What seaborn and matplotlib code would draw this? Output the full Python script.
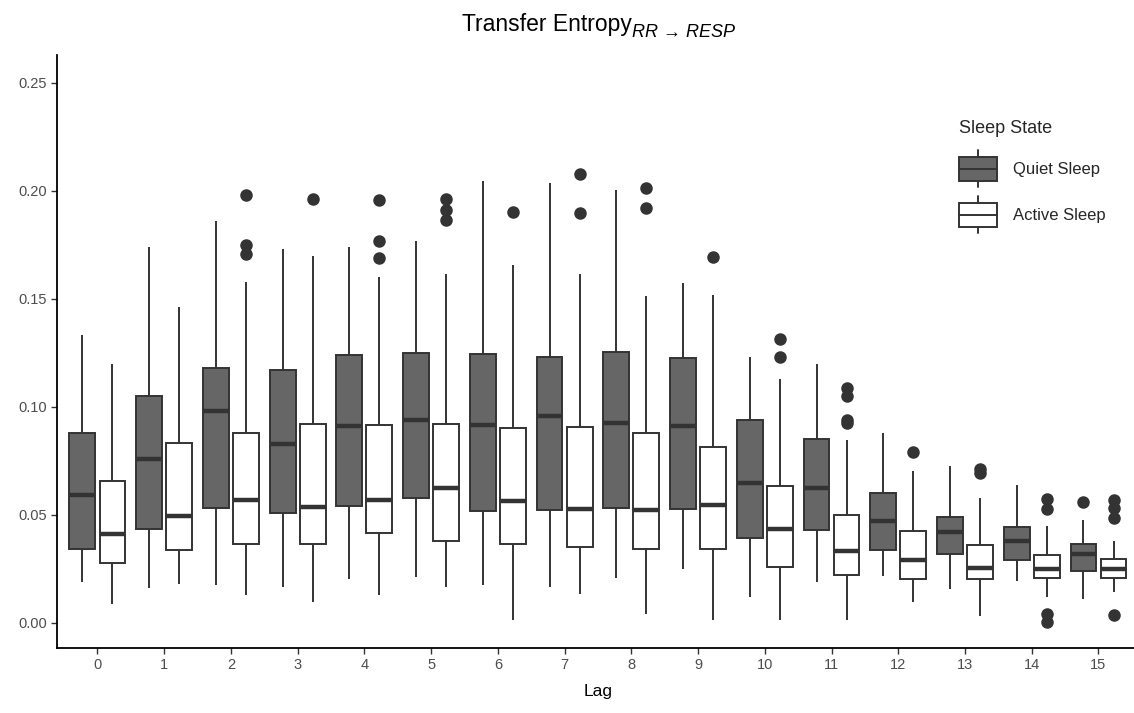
import pandas as pd
import matplotlib.pyplot as plt
import seaborn as sns
from matplotlib.patches import Patch, Rectangle
from matplotlib.lines import Line2D
from matplotlib.legend_handler import HandlerBase

#########################################################
# Data : box summaries (per lag)
#########################################################
lags = [str(i) for i in range(16)]
states = ["Quiet Sleep", "Active Sleep"]

# Quiet Sleep
quiet_lo = [0.0190, 0.0160, 0.0174, 0.0165, 0.0200, 0.0210, 0.0174, 0.0166,
            0.0206, 0.0248, 0.0117, 0.0188, 0.0214, 0.0154, 0.0193, 0.0111]
quiet_q1 = [0.0340, 0.0435, 0.0533, 0.0506, 0.0540, 0.0575, 0.0517, 0.0520,
            0.0530, 0.0528, 0.0391, 0.0427, 0.0335, 0.0319, 0.0288, 0.0237]
quiet_med = [0.0590, 0.0757, 0.0978, 0.0828, 0.0910, 0.0940, 0.0915, 0.0956,
             0.0923, 0.0909, 0.0648, 0.0623, 0.0473, 0.0419, 0.0378, 0.0319]
quiet_q3 = [0.0880, 0.1050, 0.1180, 0.1168, 0.1240, 0.1250, 0.1244, 0.1231,
            0.1252, 0.1225, 0.0936, 0.0849, 0.0601, 0.0489, 0.0441, 0.0362]
quiet_hi = [0.1330, 0.1740, 0.1860, 0.1730, 0.1740, 0.1765, 0.2046, 0.2034,
            0.2001, 0.1571, 0.1228, 0.1199, 0.0880, 0.0727, 0.0639, 0.0474]
quiet_out = [[], [], [], [], [], [], [], [],
             [], [], [], [], [], [], [], [0.0558]]

# Active Sleep
active_lo = [0.0087, 0.0177, 0.0130, 0.0095, 0.0130, 0.0165, 0.0011, 0.0135,
             0.0040, 0.0011, 0.0011, 0.0011, 0.0095, 0.0030, 0.0119, 0.0143]
active_q1 = [0.0275, 0.0335, 0.0362, 0.0364, 0.0417, 0.0379, 0.0364, 0.0351,
             0.0343, 0.0340, 0.0256, 0.0220, 0.0204, 0.0201, 0.0209, 0.0206]
active_med = [0.0409, 0.0492, 0.0568, 0.0536, 0.0568, 0.0623, 0.0564, 0.0525,
              0.0522, 0.0544, 0.0433, 0.0330, 0.0288, 0.0253, 0.0248, 0.0248]
active_q3 = [0.0656, 0.0830, 0.0880, 0.0918, 0.0915, 0.0918, 0.0901, 0.0904,
             0.0876, 0.0814, 0.0635, 0.0498, 0.0425, 0.0359, 0.0315, 0.0293]
active_hi = [0.1196, 0.1463, 0.1576, 0.1697, 0.1602, 0.1612, 0.1655, 0.1612,
             0.1512, 0.1515, 0.1128, 0.0846, 0.0703, 0.0577, 0.0446, 0.0380]
active_out = [[], [], [0.1705, 0.1749, 0.1978], [0.1963],
              [0.1690, 0.1765, 0.1955], [0.1863, 0.1912, 0.1963], [0.1903],
              [0.1895, 0.2076], [0.1920, 0.2013], [0.1694], [0.1230, 0.1315],
              [0.0925, 0.0940, 0.1049, 0.1086], [0.0789], [0.0694, 0.0710],
              [0.0003, 0.0040, 0.0525, 0.0572], [0.0035, 0.0485, 0.0533, 0.0567]]

#########################################################
# Long table : samples that reproduce each five-number summary
#########################################################
rows = []
summaries = {
    "Quiet Sleep": (quiet_lo, quiet_q1, quiet_med, quiet_q3, quiet_hi, quiet_out),
    "Active Sleep": (active_lo, active_q1, active_med, active_q3, active_hi, active_out),
}
for state, (lo, q1, med, q3, hi, out) in summaries.items():
    for i, lag in enumerate(lags):
        vals = [lo[i], hi[i]] + [q1[i]] * 10 + [med[i]] * 10 + [q3[i]] * 10 + out[i]
        for v in vals:
            rows.append({"Lag": lag, "TE": v, "State": state})
df = pd.DataFrame(rows)

#########################################################
# Style
#########################################################
sns.set_theme(style="ticks")
plt.rcParams["font.family"] = ["Liberation Sans", "DejaVu Sans"]

edge = "#333333"
palette = {"Quiet Sleep": "#666666", "Active Sleep": "#FFFFFF"}

fig = plt.figure(figsize=(11.34, 7.13), dpi=100)
ax = fig.add_axes([0.0506, 0.0912, 0.9534, 0.8317])

sns.boxplot(
    data=df, x="Lag", y="TE", hue="State",
    order=lags, hue_order=states, palette=palette,
    saturation=1, width=0.9, gap=0.14,
    linecolor=edge, linewidth=1.4, showcaps=False,
    medianprops=dict(linewidth=3.2, color=edge),
    flierprops=dict(marker="o", markersize=8, markerfacecolor=edge,
                    markeredgecolor=edge),
    legend=False, ax=ax,
)

ax.set_xlim(-0.6, 15.6)
ax.set_ylim(-0.0117, 0.2628)
ax.set_yticks([0.0, 0.05, 0.10, 0.15, 0.20, 0.25])
ax.set_yticklabels(["0.00", "0.05", "0.10", "0.15", "0.20", "0.25"])
sns.despine(ax=ax)
for side in ["left", "bottom"]:
    ax.spines[side].set_linewidth(1.3)
    ax.spines[side].set_color("black")
ax.tick_params(length=4, width=1, color=edge, labelcolor="#4D4D4D", labelsize=10.5)

ax.set_ylabel("")
ax.set_xlabel("Lag", fontsize=12.5, color="black", labelpad=8)

#title : main text + italic subscript, centred on the panel
W, H = fig.get_size_inches() * fig.dpi
renderer = fig.canvas.get_renderer()
base_y = H - 31
t_main = fig.text(0, base_y / H, "Transfer Entropy", fontsize=16.5,
                  va="baseline", ha="left", color="black")
t_sub = fig.text(0, (base_y - 6) / H, "RR \u2192 RESP", fontsize=13,
                 style="italic", va="baseline", ha="left", color="black")
w_main = t_main.get_window_extent(renderer).width
w_sub = t_sub.get_window_extent(renderer).width
bb = ax.get_window_extent(renderer)
cx = (bb.x0 + bb.x1) / 2
x0 = cx - (w_main + w_sub) / 2
t_main.set_x(x0 / W)
t_sub.set_x((x0 + w_main + 1) / W)


#legend with small ggplot-like box keys
class BoxKey(HandlerBase):
    def create_artists(self, legend, orig_handle, xdescent, ydescent,
                       width, height, fontsize, trans):
        x0, y0 = -xdescent, -ydescent
        bh = height * 0.65
        by = y0 + (height - bh) / 2
        xm = x0 + width / 2
        box = Rectangle((x0, by), width, bh, facecolor=orig_handle.get_facecolor(),
                        edgecolor=edge, linewidth=1.4, transform=trans)
        med = Line2D([x0, x0 + width], [by + bh / 2] * 2, color=edge,
                     linewidth=1.4, transform=trans)
        wlo = Line2D([xm, xm], [y0, by], color=edge, linewidth=1.4, transform=trans)
        whi = Line2D([xm, xm], [by + bh, y0 + height], color=edge,
                     linewidth=1.4, transform=trans)
        return [wlo, whi, box, med]


handles = [Patch(facecolor=palette[s]) for s in states]
leg = ax.legend(
    handles, states, handler_map={Patch: BoxKey()},
    title="Sleep State", title_fontsize=13, fontsize=12,
    loc="upper left", bbox_to_anchor=(944 / W, 1 - 105 / H),
    bbox_transform=fig.transFigure, frameon=False,
    handlelength=2.25, handleheight=3.04, handletextpad=1.0,
    labelspacing=0.54, alignment="left",
)
leg._legend_box.sep = 9.5

fig.savefig("out.png", dpi=100)
